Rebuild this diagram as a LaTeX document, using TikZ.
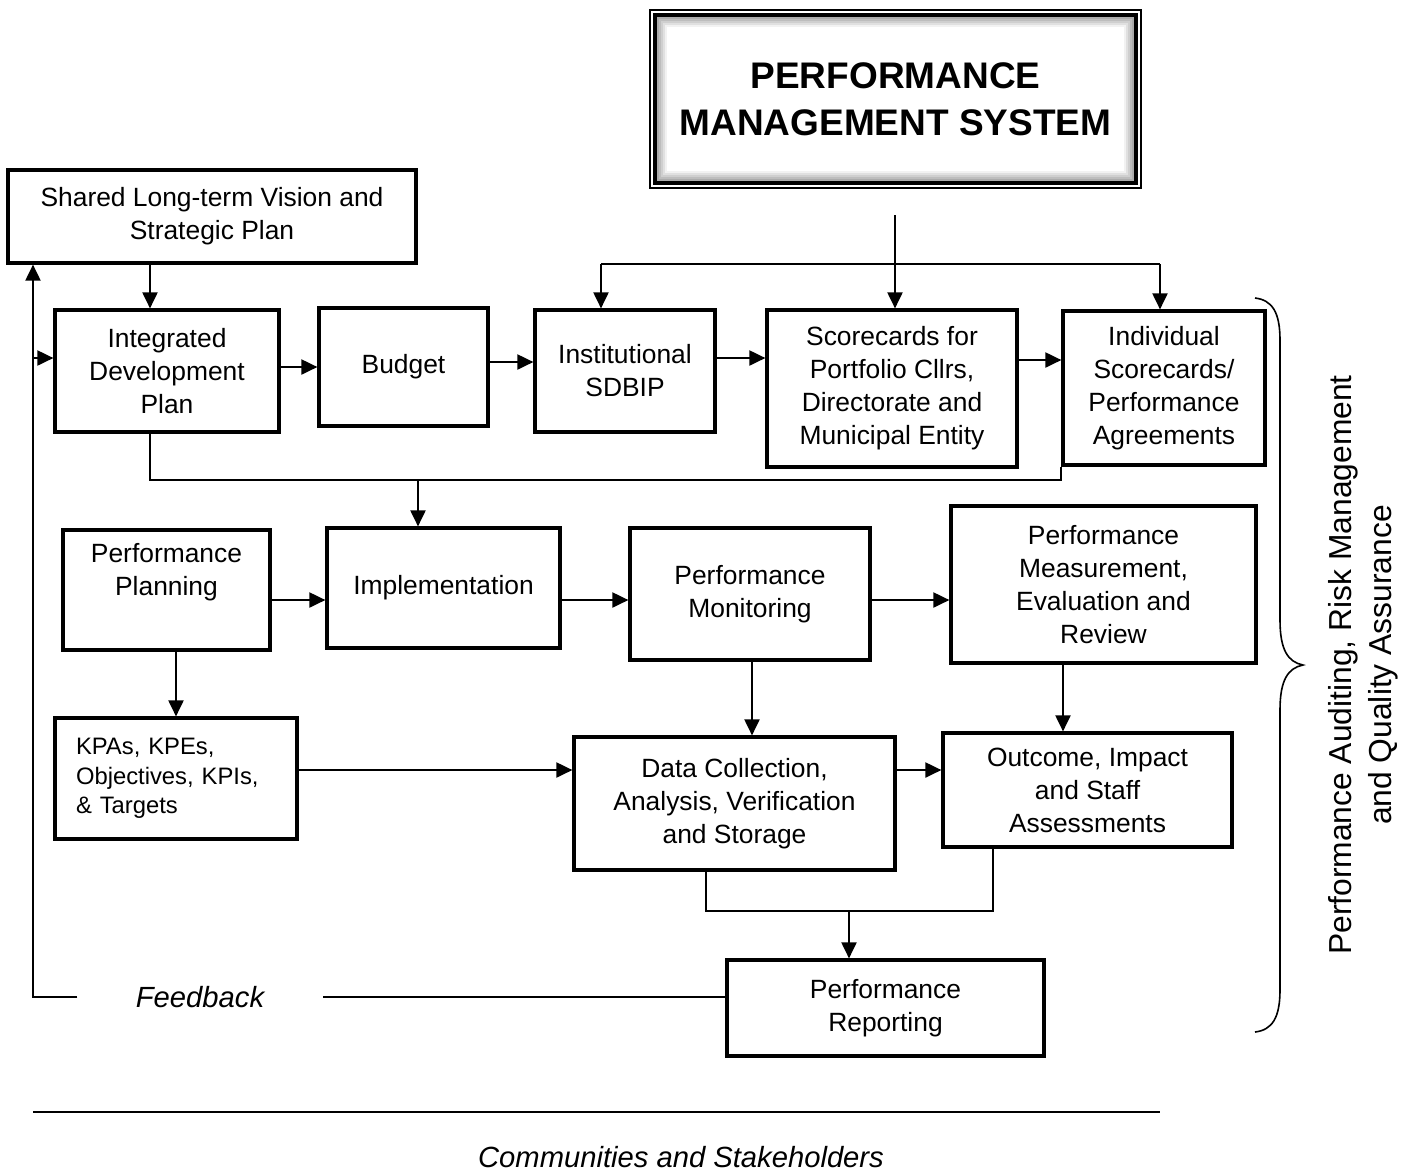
\documentclass[tikz,border=0pt]{standalone}
\usepackage{fontspec}
\setmainfont{Liberation Sans}
\usetikzlibrary{arrows.meta}

\begin{document}
\begin{tikzpicture}[x=0.5pt,y=-0.5pt,
    box/.style={draw,line width=1.6pt,align=center,inner sep=0pt,font=\fontsize{13.2}{16.5}\selectfont},
    arr/.style={line width=1pt,-{Triangle[length=8pt,width=7.5pt]}},
    ln/.style={line width=1pt},
    slant/.style={font=\itshape\fontsize{14.6}{17}\selectfont}]
  \useasboundingbox (0,0) rectangle (1415,1175);

  % title box with bevelled inner frame
  \node[draw,line width=1pt,minimum width=245.5pt,minimum height=89pt,align=center,
    font=\bfseries\fontsize{18.5}{23.5}\selectfont] (pms) at (895.5,99) {PERFORMANCE\\MANAGEMENT SYSTEM};
  \draw[line width=1.6pt] ([shift={(6,6)}]pms.north west) rectangle ([shift={(-6,-6)}]pms.south east);
  \foreach \i in {1,...,5}{
    \pgfmathtruncatemacro\g{40-7*\i}
    \draw[black!\g,line width=1pt] ([shift={(7+2*\i,7+2*\i)}]pms.north west) rectangle ([shift={(-7-2*\i,-7-2*\i)}]pms.south east);
  }

  % planning row
  \node[box,minimum width=204pt,minimum height=46.5pt] (vision) at (212,216.5) {Shared Long-term Vision and\\Strategic Plan};
  \node[box,minimum width=112pt,minimum height=61pt] (idp) at (167,371) {Integrated\\Development\\Plan};
  \node[box,minimum width=84.5pt,minimum height=59pt] (budget) at (403.5,367) {Budget};
  \node[box,minimum width=90pt,minimum height=61pt] (sdbip) at (625,371) {Institutional\\SDBIP};
  \node[box,minimum width=125pt,minimum height=78.5pt] (cllrs) at (892,388.5) {Scorecards for\\Portfolio Cllrs,\\Directorate and\\Municipal Entity};
  \node[box,minimum width=101pt,minimum height=77pt] (indiv) at (1164,388) {Individual\\Scorecards/\\Performance\\Agreements};

  % cycle
  \node[box,minimum width=103.5pt,minimum height=60pt] (plan) at (166.5,590) {Performance\\Planning\\[4pt]\mbox{}};
  \node[box,minimum width=116.5pt,minimum height=60pt] (impl) at (443.5,588) {Implementation};
  \node[box,minimum width=120pt,minimum height=66pt] (monit) at (750,594) {Performance\\Monitoring};
  \node[box,minimum width=152.5pt,minimum height=78.5pt] (measure) at (1103.5,584.5) {Performance\\Measurement,\\Evaluation and\\Review};
  \node[box,minimum width=121pt,minimum height=60.5pt,align=left,text width=100pt,
    font=\fontsize{11.9}{14.7}\selectfont] (kpa) at (176,778.5) {KPAs, KPEs,\\Objectives, KPIs,\\\& Targets};
  \node[box,minimum width=160.5pt,minimum height=66.5pt] (data) at (734.5,803.5) {Data Collection,\\Analysis, Verification\\and Storage};
  \node[box,minimum width=144.5pt,minimum height=57pt] (outcome) at (1087.5,790) {Outcome, Impact\\and Staff\\Assessments};
  \node[box,minimum width=158.5pt,minimum height=48pt] (report) at (885.5,1008) {Performance\\Reporting};

  % from the PMS down to the scorecards
  \coordinate (top) at (895,215);
  \coordinate (tl) at (601,264);
  \coordinate (tr) at (1160,264);
  \draw[arr] (top) -- (top |- cllrs.north);
  \draw[ln] (tl) -- (tr);
  \draw[arr] (tl) -- (tl |- sdbip.north);
  \draw[arr] (tr) -- (tr |- indiv.north);

  \draw[arr] (vision.south -| 150,0) -- (idp.north -| 150,0);
  \draw[arr] (idp.east |- 0,367) -- (budget.west |- 0,367);
  \draw[arr] (budget.east |- 0,362) -- (sdbip.west |- 0,362);
  \draw[arr] (sdbip.east |- 0,358) -- (cllrs.west |- 0,358);
  \draw[arr] (cllrs.east |- 0,360) -- (indiv.west |- 0,360);

  \coordinate (j1) at (418,480);
  \draw[ln] (idp.south -| 150,0) |- (j1) -| (indiv.south west);
  \draw[arr] (j1) -- (j1 |- impl.north);

  \draw[arr] (plan.east |- 0,600) -- (impl.west |- 0,600);
  \draw[arr] (impl.east |- 0,600) -- (monit.west |- 0,600);
  \draw[arr] (monit.east |- 0,600) -- (measure.west |- 0,600);
  \draw[arr] (plan.south -| 176,0) -- (kpa.north -| 176,0);
  \draw[arr] (kpa.east |- 0,770) -- (data.west |- 0,770);
  \draw[arr] (monit.south -| 752,0) -- (data.north -| 752,0);
  \draw[arr] (measure.south -| 1063,0) -- (outcome.north -| 1063,0);
  \draw[arr] (data.east |- 0,770) -- (outcome.west |- 0,770);

  \coordinate (j2) at (849,911);
  \draw[ln] (data.south -| 706,0) |- (j2) -| (outcome.south -| 993,0);
  \draw[arr] (j2) -- (j2 |- report.north);

  % feedback loop
  \node[slant,inner xsep=29pt] (fb) at (200,997) {Feedback};
  \coordinate (fbk) at (33,358);
  \draw[ln] (report.west |- fb) -- (fb.east);
  \draw[arr] (fb.west) -| (vision.south -| fbk);
  \draw[arr] (fbk) -- (fbk -| idp.west);

  % brace on the right
  \draw[line width=0.8pt] (1255,298) .. controls (1272,300) and (1280,312) .. (1280,340)
    -- (1280,620) .. controls (1280,650) and (1288,662) .. (1303,665)
    .. controls (1288,668) and (1280,680) .. (1280,710)
    -- (1280,990) .. controls (1280,1018) and (1272,1030) .. (1255,1032);
  \node[rotate=90,align=center,font=\fontsize{15.9}{20}\selectfont] (audit) at (1363,665)
    {Performance Auditing, Risk Management\\and Quality Assurance};

  % stakeholders line
  \coordinate (bl) at (33,1112);
  \coordinate (br) at (1160,1112);
  \draw[ln] (bl) -- (br);
  \node[slant,inner sep=0pt] (comm) at (681,1157) {Communities and Stakeholders};
\end{tikzpicture}
\end{document}
